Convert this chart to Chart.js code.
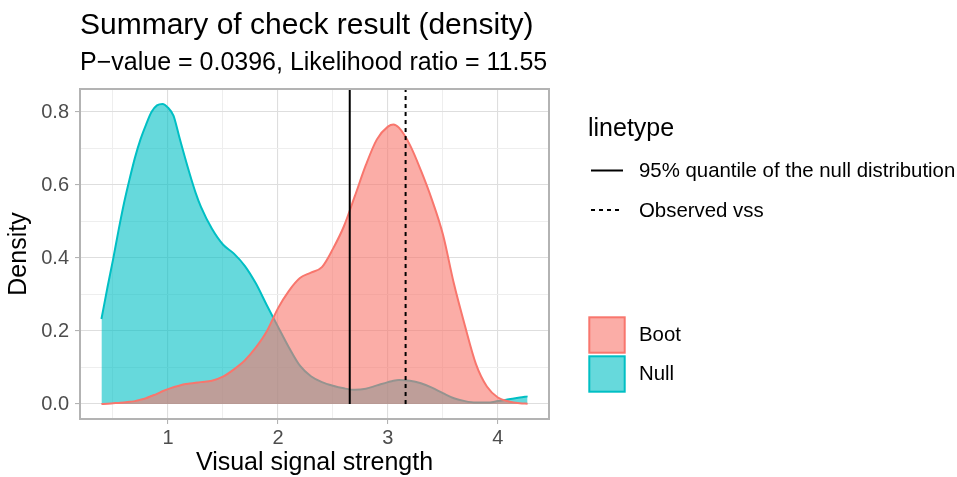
<!DOCTYPE html>
<html><head><meta charset="utf-8">
<script src="https://cdn.jsdelivr.net/npm/chart.js@4.4.1/dist/chart.umd.min.js"></script>
<style>html,body{margin:0;padding:0;background:#fff;overflow:hidden}#wrap{width:957px;height:477px}</style>
</head><body><div id="wrap"><canvas id="c" width="957" height="477"></canvas></div>
<script>
const titleText = 'Summary of check result (density)';
const subtitleText = 'P\u2212value = 0.0396, Likelihood ratio = 11.55';
const xAxisTitle = 'Visual signal strength';
const yAxisTitle = 'Density';
const legendTitle = 'linetype';
const seriesNames = ['Boot', 'Null'];
const densityX = [0.395,0.45,0.5,0.55,0.6,0.65,0.7,0.75,0.8,0.85,0.9,0.95,1.0,1.05,1.1,1.15,1.2,1.25,1.3,1.4,1.5,1.6,1.7,1.8,1.9,2.0,2.1,2.2,2.3,2.4,2.5,2.6,2.7,2.8,2.9,3.0,3.05,3.1,3.2,3.3,3.4,3.5,3.6,3.7,3.8,3.9,4.0,4.1,4.2,4.27];
const bootDensity = [0,0.001,0.002,0.003,0.004,0.006,0.008,0.012,0.016,0.022,0.028,0.035,0.041,0.046,0.050,0.054,0.056,0.058,0.060,0.064,0.075,0.095,0.120,0.155,0.200,0.262,0.310,0.345,0.360,0.375,0.425,0.487,0.570,0.655,0.725,0.760,0.766,0.757,0.710,0.640,0.560,0.465,0.330,0.215,0.110,0.048,0.018,0.007,0.002,0.001];
const nullDensity = [0.233,0.32,0.395,0.475,0.55,0.615,0.675,0.725,0.765,0.80,0.818,0.822,0.812,0.79,0.735,0.68,0.628,0.58,0.54,0.48,0.437,0.412,0.378,0.33,0.27,0.212,0.155,0.105,0.076,0.060,0.050,0.043,0.039,0.042,0.051,0.060,0.064,0.066,0.064,0.057,0.045,0.030,0.016,0.008,0.004,0.004,0.008,0.013,0.018,0.021];
const lineNames = ['95% quantile of the null distribution', 'Observed vss'];
const lineValues = [2.653, 3.161];
const xTicks = [0.5,1,1.5,2,2.5,3,3.5,4];
const xMajor = [1,2,3,4];
const yTicks = [0,0.1,0.2,0.3,0.4,0.5,0.6,0.7,0.8];
const yMajor = [0,0.2,0.4,0.6,0.8];
const xRange = [0.2, 4.465];
const yRange = [-0.041, 0.863];

const FONT = '"Liberation Sans", Arial, Helvetica, sans-serif';
Chart.defaults.font.family = FONT;

const seriesColors = ['#F8766D', '#00BFC4'];
const seriesFills = ['rgba(248,118,109,0.6)', 'rgba(0,191,196,0.6)'];
const lineDashes = [[], [4, 4]];

function isMajor(v, list) { return list.some(m => Math.abs(m - v) < 1e-9); }

const decor = {
  id: 'decor',
  afterDraw(chart) {
    const ctx = chart.ctx, a = chart.chartArea;
    ctx.save();
    ctx.strokeStyle = '#B3B3B3'; ctx.lineWidth = 2; ctx.setLineDash([]);
    ctx.strokeRect(a.left, a.top, a.right - a.left, a.bottom - a.top);
    ctx.fillStyle = '#000'; ctx.textAlign = 'left'; ctx.textBaseline = 'alphabetic';
    ctx.font = '30px ' + FONT; ctx.fillText(titleText, a.left, 33.5);
    ctx.font = '25px ' + FONT; ctx.fillText(subtitleText, a.left, 69.5);
    ctx.fillText(legendTitle, 588, 135.5);
    ctx.font = '20.4px ' + FONT; ctx.textBaseline = 'middle';
    lineNames.forEach((name, i) => {
      const y = 170.5 + i * 39.5;
      ctx.strokeStyle = '#000'; ctx.lineWidth = 2; ctx.setLineDash(lineDashes[i]);
      ctx.beginPath(); ctx.moveTo(591, y); ctx.lineTo(623, y); ctx.stroke();
      ctx.fillStyle = '#000'; ctx.fillText(name, 639, y + 1);
    });
    ctx.setLineDash([]);
    seriesNames.forEach((name, i) => {
      const y0 = 317.3 + i * 39;
      ctx.fillStyle = '#fff'; ctx.fillRect(589.3, y0, 35.4, 35.4);
      ctx.fillStyle = seriesFills[i]; ctx.fillRect(589.3, y0, 35.4, 35.4);
      ctx.strokeStyle = seriesColors[i]; ctx.lineWidth = 2;
      ctx.strokeRect(589.3, y0, 35.4, 35.4);
      ctx.fillStyle = '#000'; ctx.fillText(name, 639, y0 + 18);
    });
    ctx.restore();
  }
};

const gridOpts = (list) => ({
  color: c => isMajor(c.tick.value, list) ? '#DEDEDE' : '#EEEEEE',
  lineWidth: c => isMajor(c.tick.value, list) ? 1.1 : 1,
  tickColor: c => isMajor(c.tick.value, list) ? '#B3B3B3' : 'rgba(0,0,0,0)',
  tickLength: 5,
  tickWidth: 1.1,
  drawTicks: true
});

const datasets = [
  ...lineValues.map((v, i) => ({
    label: lineNames[i],
    data: [{x: v, y: 0}, {x: v, y: yRange[1]}],
    borderColor: '#000', borderWidth: 2, borderDash: lineDashes[i], fill: false, pointRadius: 0
  })),
  ...seriesNames.map((name, i) => ({
    label: name,
    data: densityX.map((x, j) => ({x, y: (i === 0 ? bootDensity : nullDensity)[j]})),
    borderColor: seriesColors[i], backgroundColor: seriesFills[i],
    fill: 'origin', borderWidth: 2, pointRadius: 0, cubicInterpolationMode: 'monotone'
  }))
];

new Chart(document.getElementById('c'), {
  type: 'line',
  data: { datasets },
  options: {
    responsive: false, animation: false, devicePixelRatio: 1,
    layout: { padding: { left: 0, top: 89, right: 408, bottom: 0 } },
    plugins: { legend: { display: false }, tooltip: { enabled: false }, title: { display: false } },
    scales: {
      x: {
        type: 'linear', min: xRange[0], max: xRange[1],
        afterBuildTicks: s => { s.ticks = xTicks.map(v => ({value: v})); },
        afterFit: s => { s.height = 58; },
        ticks: { autoSkip: false, maxRotation: 0, padding: 2, color: '#4D4D4D', font: { size: 20 },
          callback: v => isMajor(v, xMajor) ? String(v) : '' },
        grid: gridOpts(xMajor),
        border: { display: false },
        title: { display: true, text: xAxisTitle, color: '#000', font: { size: 25 }, padding: { top: 0, bottom: -1.6 } }
      },
      y: {
        type: 'linear', min: yRange[0], max: yRange[1],
        afterBuildTicks: s => { s.ticks = yTicks.map(v => ({value: v})); },
        afterFit: s => { s.width = 80; },
        ticks: { autoSkip: false, padding: 6, color: '#4D4D4D', font: { size: 20 },
          callback: v => isMajor(v, yMajor) ? v.toFixed(1) : '' },
        grid: gridOpts(yMajor),
        border: { display: false },
        title: { display: true, text: yAxisTitle, color: '#000', font: { size: 25 }, padding: { top: 4.6, bottom: 0 } }
      }
    }
  },
  plugins: [decor]
});
</script>
</body></html>
